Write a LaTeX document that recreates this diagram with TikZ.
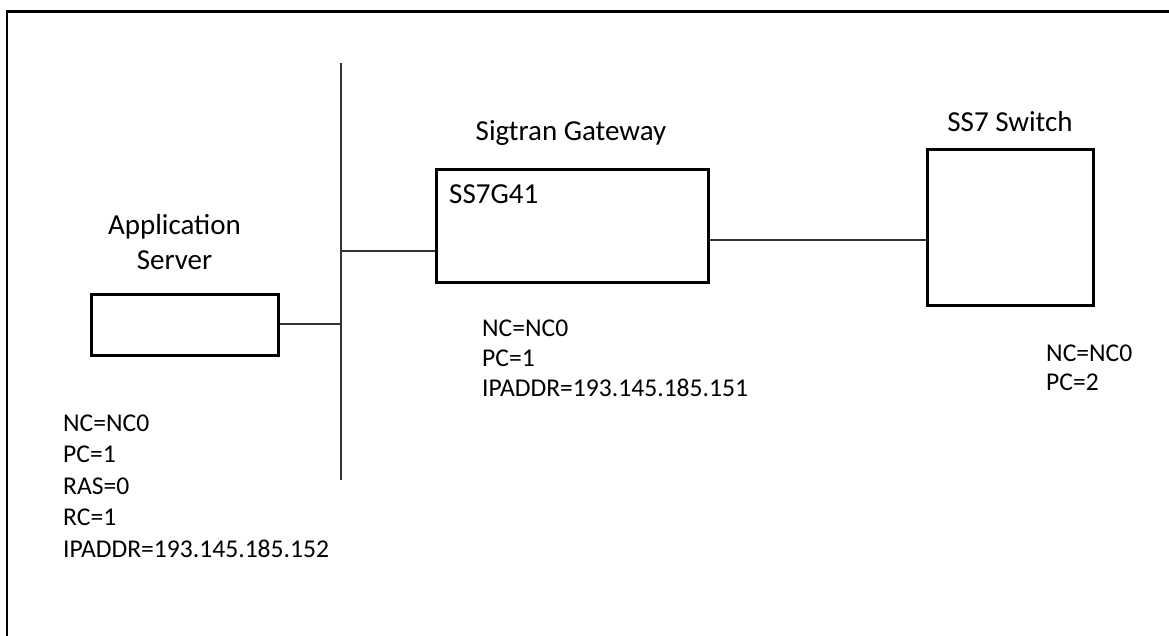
\documentclass[tikz,border=0pt]{standalone}
\usepackage{fontspec}
\setmainfont{Carlito}
\begin{document}
\begin{tikzpicture}[x=1pt,y=-1pt,
  box/.style={draw=black,line width=3pt,minimum width=#1,inner sep=0pt},
  wire/.style={draw=black!80,line width=1.3pt},
  lbl/.style={inner sep=0pt,align=left,anchor=north west},
  ttl/.style={inner sep=0pt,anchor=base,font=\fontsize{29}{34}\selectfont},
  every node/.append style={font=\fontsize{25.6}{30}\selectfont}]
\useasboundingbox (0,0) rectangle (1169,635);
% frame
\draw[line width=2.5pt] (7,640) -- (7,11.5) -- (1175,11.5);
% boxes
\node[box=187pt,minimum height=61pt] (as) at (185,324.5) {};
\node[box=272pt,minimum height=112.5pt] (gw) at (572,225.75) {};
\node[box=166pt,minimum height=156pt] (sw) at (1010,227) {};
% bus
\coordinate (bt) at (341,63);
\coordinate (bb) at (341,480);
\coordinate (b1) at (341,324);
\coordinate (b2) at (341,251);
\coordinate (g) at (708,240);
\draw[wire] (bt) -- (bb);
\draw[wire] (b1 -| as.east) -- (b1);
\draw[wire] (b2) -- (b2 -| gw.west);
\draw[wire] (g -| gw.east) -- (g -| sw.west);
% titles
\node[ttl] (t1) at (174.5,234) {Application};
\node[ttl] (t2) at (174.5,269) {Server};
\node[ttl] (t3) at (571,140) {Sigtran Gateway};
\node[ttl] (t4) at (1010,131) {SS7 Switch};
\node[inner sep=0pt,anchor=base west,font=\fontsize{29}{34}\selectfont] (t5) at (449,203) {SS7G41};
% labels
\node[lbl,font=\fontsize{25.6}{31.5}\selectfont] (l1) at (63,414.5) {NC=NC0\\PC=1\\RAS=0\\RC=1\\IPADDR=193.145.185.152};
\node[lbl,font=\fontsize{25.6}{30}\selectfont] (l2) at (482,320) {NC=NC0\\PC=1\\IPADDR=193.145.185.151};
\node[lbl,font=\fontsize{25.6}{28.5}\selectfont] (l3) at (1046,345) {NC=NC0\\PC=2};
\end{tikzpicture}
\end{document}
